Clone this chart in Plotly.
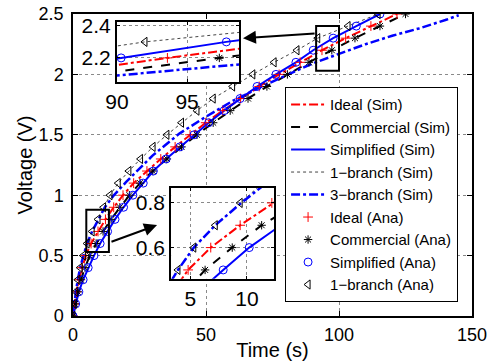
import plotly.graph_objects as go

# Voltage levels (V) at which analytical points are given
voltage = [0.0, 0.1, 0.2, 0.3, 0.4, 0.5, 0.6, 0.7, 0.8, 0.9, 1.0, 1.1, 1.2, 1.3,
           1.4, 1.5, 1.6, 1.7, 1.8, 1.9, 2.0, 2.1, 2.2, 2.3, 2.4, 2.5]
# Time (s) to reach each voltage
t_ideal = [0, 0.6, 1.3, 2.2, 3.4, 4.8, 6.8, 9.4, 12.2, 15.3, 18.8, 22.8, 27.8, 33.0,
           38.4, 44.0, 49.9, 56.3, 63.0, 70.0, 77.5, 85.4, 93.6, 102.5, 112.0, 121.8]
t_commercial = [0, 0.8, 1.8, 3.0, 4.5, 6.3, 8.7, 11.3, 14.3, 17.6, 21.2, 25.2, 30.0, 35.3,
                40.8, 46.6, 52.7, 59.1, 65.8, 72.9, 80.6, 88.7, 97.3, 106.0, 115.4, 125.0]
t_simplified = [0, 1.0, 2.2, 3.8, 5.7, 7.9, 10.2, 13.0, 15.8, 19.0, 22.5, 26.4, 30.2, 35.0,
                40.2, 45.5, 51.0, 56.8, 62.8, 69.2, 76.3, 83.8, 90.3, 97.8, 106.5, 115.4]
t_1branch = [0, 0.5, 1.1, 1.8, 2.7, 3.9, 5.3, 7.2, 9.4, 11.5, 13.9, 17.0, 21.0, 25.4,
             30.1, 35.3, 40.8, 46.6, 52.7, 60.0, 67.6, 75.6, 84.2, 92.0, 103.4, 114.7]
# 3-branch simulation curve
t_3branch = [0, 0.5, 1.1, 1.8, 2.7, 3.9, 5.3, 7.2, 9.5, 12, 15, 20, 30, 40, 50, 60, 70,
             80, 90, 100, 110, 120, 130, 140, 145]
v_3branch = [0, 0.1, 0.2, 0.3, 0.4, 0.5, 0.6, 0.7, 0.8, 0.9, 0.99, 1.11, 1.33, 1.51, 1.65,
             1.78, 1.89, 1.99, 2.09, 2.17, 2.25, 2.32, 2.38, 2.45, 2.49]

x_ticks = [0, 50, 100, 150]
y_ticks = [0, 0.5, 1, 1.5, 2, 2.5]

FONT = "Liberation Sans, Arial, sans-serif"

sim_specs = [
    ("Ideal (Sim)", t_ideal, voltage, dict(color="red", width=2, dash="dashdot")),
    ("Commercial (Sim)", t_commercial, voltage, dict(color="black", width=2, dash="dash")),
    ("Simplified (Sim)", t_simplified, voltage, dict(color="blue", width=2, dash="solid")),
    ("1\u2212branch (Sim)", t_1branch, voltage, dict(color="#444444", width=1, dash="dot")),
    ("3\u2212branch (Sim)", t_3branch, v_3branch, dict(color="blue", width=2.5, dash="dashdot")),
]
ana_specs = [
    ("Ideal (Ana)", t_ideal, dict(symbol="cross-thin-open", color="red", size=7, line=dict(color="red", width=1))),
    ("Commercial (Ana)", t_commercial, dict(symbol="asterisk-open", color="black", size=7, line=dict(color="black", width=1))),
    ("Simplified (Ana)", t_simplified, dict(symbol="circle-open", color="blue", size=8, line=dict(color="blue", width=1))),
    ("1\u2212branch (Ana)", t_1branch, dict(symbol="triangle-left-open", color="black", size=8, line=dict(color="black", width=1))),
]

fig = go.Figure()
axes_sets = [("x", "y", True), ("x2", "y2", False), ("x3", "y3", False)]
for xa, ya, main in axes_sets:
    for name, tx, vy, ln in sim_specs:
        fig.add_trace(go.Scatter(x=tx, y=vy, mode="lines", name=name, line=ln,
                                 xaxis=xa, yaxis=ya, showlegend=main, cliponaxis=True))
    for name, tx, mk in ana_specs:
        fig.add_trace(go.Scatter(x=tx, y=voltage, mode="markers", name=name, marker=mk,
                                 xaxis=xa, yaxis=ya, showlegend=main, cliponaxis=True))

grid = dict(showgrid=True, gridcolor="#8a8a8a", griddash="dot", gridwidth=1,
            zeroline=False, showline=True, linecolor="black", mirror="ticks",
            ticks="inside", tickcolor="black", color="black", automargin=False,
            ticklabeloverflow="allow")

fig.update_layout(
    width=490, height=361,
    margin=dict(l=73, r=18, t=14, b=45),
    paper_bgcolor="white", plot_bgcolor="white",
    font=dict(family=FONT, size=18, color="black"),
    xaxis=dict(domain=[0, 1], range=[0, 150], tickvals=x_ticks, ticklen=5, linewidth=1.5,
               title=dict(text="Time (s)", font=dict(size=20), standoff=1), ticklabelstandoff=2,
               tickfont=dict(size=18), **grid),
    yaxis=dict(domain=[0, 1], range=[0, 2.5], tickvals=y_ticks, ticklen=5, linewidth=1.5,
               title=dict(text="Voltage (V)", font=dict(size=20), standoff=1), ticklabelstandoff=4,
               tickfont=dict(size=18), **grid),
    xaxis2=dict(domain=[0.110, 0.416], range=[90, 98.7], tickvals=[90, 95], anchor="y2",
                ticklen=3, linewidth=2, tickfont=dict(size=21), **grid),
    yaxis2=dict(domain=[0.775, 0.974], range=[2.05, 2.425], tickvals=[2.2, 2.4], anchor="x2",
                ticklen=3, linewidth=2, tickfont=dict(size=21), **grid),
    xaxis3=dict(domain=[0.246, 0.504], range=[3.3, 12.4], tickvals=[5, 10], anchor="y3",
                ticklen=3, linewidth=2, tickfont=dict(size=21), **grid),
    yaxis3=dict(domain=[0.123, 0.424], range=[0.46, 0.867], tickvals=[0.6, 0.8], anchor="x3",
                ticklen=3, linewidth=2, tickfont=dict(size=21), **grid),
    legend=dict(x=0.531, y=0.758, xanchor="left", yanchor="top",
                bgcolor="white", bordercolor="black", borderwidth=1.2,
                itemwidth=34, font=dict(family=FONT, size=15)),
    showlegend=True,
)

# zoom boxes
fig.add_shape(type="rect", xref="x", yref="y", x0=91.4, x1=100, y0=2.03, y1=2.4,
              line=dict(color="black", width=2))
fig.add_shape(type="rect", xref="x", yref="y", x0=5, x1=13.5, y0=0.53, y1=0.88,
              line=dict(color="black", width=2))
# arrows
fig.add_annotation(x=63.9, y=2.30, ax=91.4, ay=2.34, xref="x", yref="y", axref="x", ayref="y",
                   showarrow=True, arrowhead=2, arrowsize=1.3, arrowwidth=2, arrowcolor="black", text="")
fig.add_annotation(x=31.6, y=0.753, ax=13.9, ay=0.61, xref="x", yref="y", axref="x", ayref="y",
                   showarrow=True, arrowhead=2, arrowsize=1.3, arrowwidth=2, arrowcolor="black", text="")

# remove the default 8px page margin so the figure fills the window exactly
fig.write_html("out.html", config={"displayModeBar": False},
               post_script="document.body.style.margin='0';")
